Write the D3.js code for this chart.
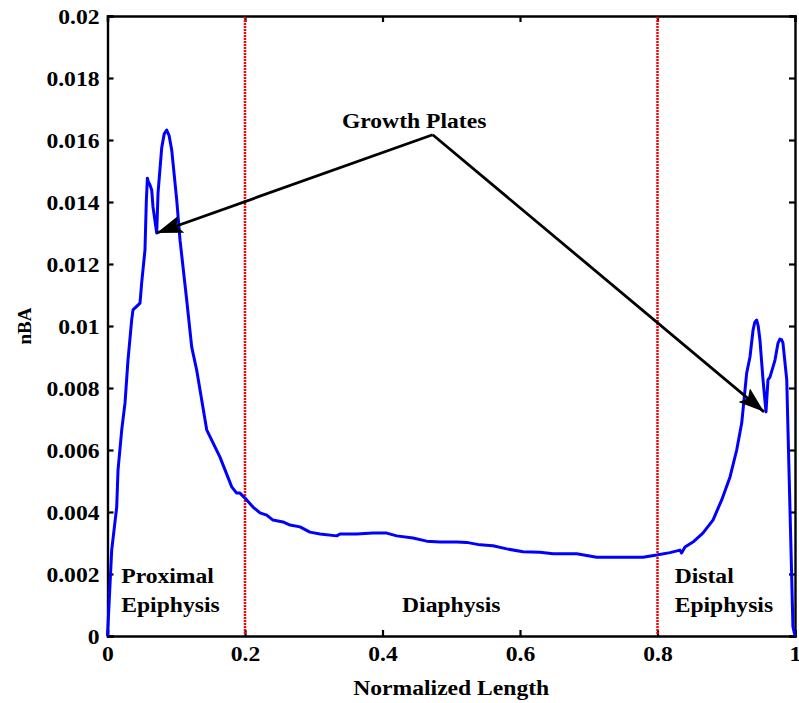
<!DOCTYPE html>
<html>
<head>
<meta charset="utf-8">
<script src="https://cdn.jsdelivr.net/npm/d3@7"></script>
<style>
  body { margin: 0; background: #fff; }
  svg { display: block; }
  text { font-family: "Liberation Serif", "Times New Roman", serif; font-weight: bold; fill: #000; }
</style>
</head>
<body>
<svg id="chart" width="799" height="703"></svg>
<script>
// Normalized length along the bone and the nBA profile
const normLength = [0, 0.0061, 0.0134, 0.0153, 0.0207, 0.0255, 0.0298, 0.0352, 0.0371, 0.0473,
  0.0497, 0.0545, 0.0565, 0.058, 0.0595, 0.0618, 0.0643, 0.0662, 0.0716, 0.0735, 0.0788,
  0.0825, 0.0861, 0.0895, 0.0934, 0.1007, 0.1055, 0.1152, 0.1225, 0.1297, 0.1443, 0.1636, 0.1807,
  0.1879, 0.1927, 0.2025, 0.2116, 0.2218, 0.2316, 0.2407, 0.2553, 0.2655, 0.28,
  0.2945, 0.3091, 0.3334, 0.3382, 0.3625, 0.3862, 0.4061, 0.4207, 0.4444, 0.4643,
  0.4836, 0.5079, 0.5225, 0.5418, 0.5607, 0.5807, 0.6044, 0.6291, 0.648, 0.6825,
  0.7116, 0.7407, 0.7789, 0.7988, 0.8182, 0.8327, 0.835, 0.84, 0.8516, 0.866,
  0.8807, 0.8934, 0.9055, 0.9152, 0.9225, 0.9297, 0.9345, 0.939, 0.9415, 0.9443, 0.9465, 0.949,
  0.9535, 0.9578, 0.9607, 0.9636, 0.9709, 0.9753, 0.978, 0.9807, 0.9825, 0.988, 0.9898,
  0.997, 1.0];
const nBA = [0, 0.00277, 0.00416, 0.00535, 0.00665, 0.00752, 0.0089, 0.0102, 0.01052, 0.01074,
  0.01139, 0.01245, 0.01405, 0.01477, 0.01465, 0.01455, 0.01439, 0.01384, 0.0130, 0.01429, 0.01574,
  0.0162, 0.01632, 0.01615, 0.01568, 0.01406, 0.01277, 0.01084, 0.00932, 0.00858, 0.00665, 0.00577, 0.00481,
  0.00461, 0.00461, 0.00439, 0.00416, 0.00397, 0.0039, 0.00374, 0.00368, 0.00358, 0.00352,
  0.00335, 0.00329, 0.00323, 0.00329, 0.00329, 0.00332, 0.00332, 0.00323, 0.00316, 0.00306,
  0.00303, 0.00303, 0.00302, 0.00294, 0.00291, 0.00281, 0.00272, 0.0027, 0.00265, 0.00265,
  0.00254, 0.00254, 0.00254, 0.00261, 0.00269, 0.00277, 0.00268, 0.00287, 0.00303, 0.00332,
  0.00374, 0.00439, 0.00513, 0.006, 0.00687, 0.00848, 0.009, 0.00987, 0.01012, 0.01019, 0.01, 0.00955,
  0.00826, 0.00723, 0.00826, 0.00835, 0.0089, 0.00945, 0.00958, 0.00955, 0.00945, 0.00826, 0.00665,
  0.0003, 0];

// Region boundaries (dotted red lines) and region labels
const boundaries = [0.2, 0.8];
const regionLabels = [
  { lines: ["Proximal", "Epiphysis"], x: 0.02, anchor: "start" },
  { lines: ["Diaphysis"], x: 0.5, anchor: "middle" },
  { lines: ["Distal", "Epiphysis"], x: 0.825, anchor: "start" }
];

// Annotation: "Growth Plates" with two arrows
const annotationText = "Growth Plates";
const annotationApex = [0.473, 0.01617];
const arrowTips = [[0.0716, 0.0130], [0.955, 0.00723]];

const xTicks = [0, 0.2, 0.4, 0.6, 0.8, 1];
const yTicks = [0, 0.002, 0.004, 0.006, 0.008, 0.01, 0.012, 0.014, 0.016, 0.018, 0.02];

const svg = d3.select("#chart");
const plotLeft = 107.5, plotRight = 795, plotTop = 16, plotBottom = 636;
const stretch = 1.18;

const x = d3.scaleLinear().domain([0, 1]).range([plotLeft, plotRight]);
const y = d3.scaleLinear().domain([0, 0.02]).range([plotBottom, plotTop]);

// horizontally widen text to mimic the stretched original
function widen(sel) {
  sel.each(function () {
    const len = this.getComputedTextLength();
    d3.select(this).attr("textLength", len * stretch).attr("lengthAdjust", "spacingAndGlyphs");
  });
}

// Axes (box with inward ticks on all sides)
const fmt = (d) => (d === 0 ? "0" : d === 1 ? "1" : String(+d.toFixed(3)));
const gx = svg.append("g").attr("transform", `translate(0,${plotBottom})`)
  .call(d3.axisBottom(x).tickValues(xTicks).tickFormat(fmt).tickSize(-6).tickPadding(11));
const gy = svg.append("g").attr("transform", `translate(${plotLeft},0)`)
  .call(d3.axisLeft(y).tickValues(yTicks).tickFormat(fmt).tickSize(-6).tickPadding(8));
svg.append("g").attr("transform", `translate(0,${plotTop})`)
  .call(d3.axisTop(x).tickValues(xTicks).tickFormat("").tickSize(-6));
svg.append("g").attr("transform", `translate(${plotRight},0)`)
  .call(d3.axisRight(y).tickValues(yTicks).tickFormat("").tickSize(-6));

svg.selectAll(".domain").attr("stroke", "#000").attr("stroke-width", 2.4);
svg.selectAll(".tick line").attr("stroke", "#000").attr("stroke-width", 2.2);
svg.selectAll(".tick text").attr("font-size", 20).attr("fill", "#000");
svg.selectAll("g").attr("font-family", null).attr("font-size", null);
gy.selectAll(".tick text").attr("dy", "0.36em");
widen(svg.selectAll(".tick text"));

// Dotted region boundaries
svg.selectAll(".boundary").data(boundaries).join("line")
  .attr("class", "boundary")
  .attr("x1", (d) => x(d)).attr("x2", (d) => x(d))
  .attr("y1", y(0.02) + 1).attr("y2", y(0) - 1)
  .attr("stroke", "#ff0000").attr("stroke-width", 2.5)
  .attr("stroke-dasharray", "2,1");

// The nBA profile
const line = d3.line().x((d, i) => x(normLength[i])).y((d) => y(d));
svg.append("path")
  .datum(nBA)
  .attr("d", line)
  .attr("fill", "none")
  .attr("stroke", "#0000ff")
  .attr("stroke-width", 3)
  .attr("stroke-linejoin", "round");

// Region labels
regionLabels.forEach(function (r) {
  const t = svg.append("text")
    .attr("x", x(r.x))
    .attr("text-anchor", r.anchor)
    .attr("font-size", 20);
  r.lines.forEach(function (s, i) {
    const baseY = r.lines.length === 2 ? 583 + i * 29 : 612;
    t.append("tspan").attr("x", x(r.x)).attr("y", baseY).text(s);
  });
  widen(t.selectAll("tspan"));
});

// Arrowhead marker
svg.append("defs").append("marker")
  .attr("id", "head")
  .attr("viewBox", "0 0 26 18")
  .attr("refX", 26).attr("refY", 9)
  .attr("markerWidth", 26).attr("markerHeight", 18)
  .attr("markerUnits", "userSpaceOnUse")
  .attr("orient", "auto")
  .append("path")
  .attr("d", "M0,0 L26,9 L0,18 L5,9 Z")
  .attr("fill", "#000");

// Growth plate arrows
arrowTips.forEach(function (tip) {
  svg.append("line")
    .attr("x1", x(annotationApex[0])).attr("y1", y(annotationApex[1]))
    .attr("x2", x(tip[0])).attr("y2", y(tip[1]))
    .attr("stroke", "#000").attr("stroke-width", 2.8)
    .attr("marker-end", "url(#head)");
});

svg.append("text")
  .attr("x", x(0.446))
  .attr("y", 128)
  .attr("text-anchor", "middle")
  .attr("font-size", 20)
  .text(annotationText)
  .call(widen);

// Axis titles
svg.append("text")
  .attr("x", (plotLeft + plotRight) / 2)
  .attr("y", 695)
  .attr("text-anchor", "middle")
  .attr("font-size", 20)
  .text("Normalized Length")
  .call(widen);

svg.append("text")
  .attr("transform", `translate(31,${(plotTop + plotBottom) / 2}) rotate(-90)`)
  .attr("text-anchor", "middle")
  .attr("font-size", 19)
  .text("nBA");
</script>
</body>
</html>
